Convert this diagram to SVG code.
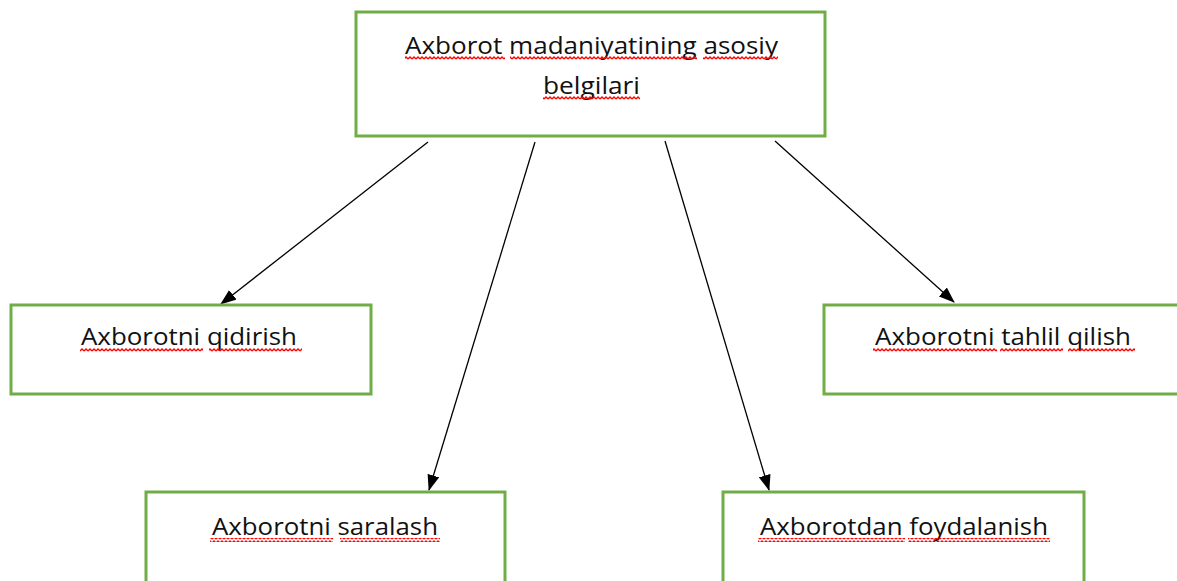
<svg xmlns="http://www.w3.org/2000/svg" width="1177" height="581" viewBox="0 0 1177 581">
<style>
.box{fill:#fff;stroke:#70AD47;stroke-width:3}
.lbl{font-family:"Open Sans","Noto Sans","Liberation Sans",sans-serif;font-size:24px;fill:#111}
.wave{fill:url(#wv)}
.conn{stroke:#000;stroke-width:1.3;fill:none;marker-end:url(#ah)}
</style>
<defs>
<pattern id="wv" patternUnits="userSpaceOnUse" width="4" height="4">
<path d="M0 3 L2 1 L4 3" fill="none" stroke="#ff0000" stroke-width="1.4"/>
</pattern>
<marker id="ah" markerUnits="userSpaceOnUse" markerWidth="16" markerHeight="12" refX="15" refY="6" orient="auto">
<path d="M0 0 L16 6 L0 12 Z" fill="#000"/>
</marker>
</defs>
<rect width="1177" height="581" fill="#fff"/>
<g id="connectors">
<line class="conn" x1="428" y1="142" x2="221" y2="304"/>
<line class="conn" x1="535" y1="142" x2="429" y2="490"/>
<line class="conn" x1="665" y1="141" x2="769" y2="490"/>
<line class="conn" x1="775" y1="141" x2="954" y2="302"/>
</g>
<g id="top">
<rect class="box" x="356" y="12" width="469" height="124"/>
<text class="lbl" x="405" y="54" textLength="373" lengthAdjust="spacingAndGlyphs">Axborot madaniyatining asosiy</text>
<text class="lbl" x="543" y="94" textLength="97" lengthAdjust="spacingAndGlyphs">belgilari</text>
<rect class="wave" x="405" y="56" width="100" height="4"/>
<rect class="wave" x="510" y="56" width="187" height="4"/>
<rect class="wave" x="703" y="56" width="75" height="4"/>
<rect class="wave" x="543" y="96" width="97" height="4"/>
</g>
<g id="qidirish">
<rect class="box" x="11" y="305" width="360" height="89"/>
<text class="lbl" x="81" y="345" textLength="216" lengthAdjust="spacingAndGlyphs">Axborotni qidirish</text>
<rect class="wave" x="80" y="348" width="123" height="4"/>
<rect class="wave" x="209" y="348" width="93" height="4"/>
</g>
<g id="tahlil">
<rect class="box" x="824" y="305" width="360" height="89"/>
<text class="lbl" x="875" y="345" textLength="256" lengthAdjust="spacingAndGlyphs">Axborotni tahlil qilish</text>
<rect class="wave" x="873" y="348" width="124" height="4"/>
<rect class="wave" x="1000" y="348" width="63" height="4"/>
<rect class="wave" x="1068" y="348" width="67" height="4"/>
</g>
<g id="saralash">
<rect class="box" x="146" y="492" width="359" height="100"/>
<text class="lbl" x="212" y="535" textLength="226" lengthAdjust="spacingAndGlyphs">Axborotni saralash</text>
<rect class="wave" x="210" y="538" width="123" height="4"/>
<rect class="wave" x="340" y="538" width="100" height="4"/>
</g>
<g id="foydalanish">
<rect class="box" x="723" y="492" width="361" height="100"/>
<text class="lbl" x="760" y="535" textLength="288" lengthAdjust="spacingAndGlyphs">Axborotdan foydalanish</text>
<rect class="wave" x="758" y="538" width="147" height="4"/>
<rect class="wave" x="908" y="538" width="142" height="4"/>
</g>
</svg>
